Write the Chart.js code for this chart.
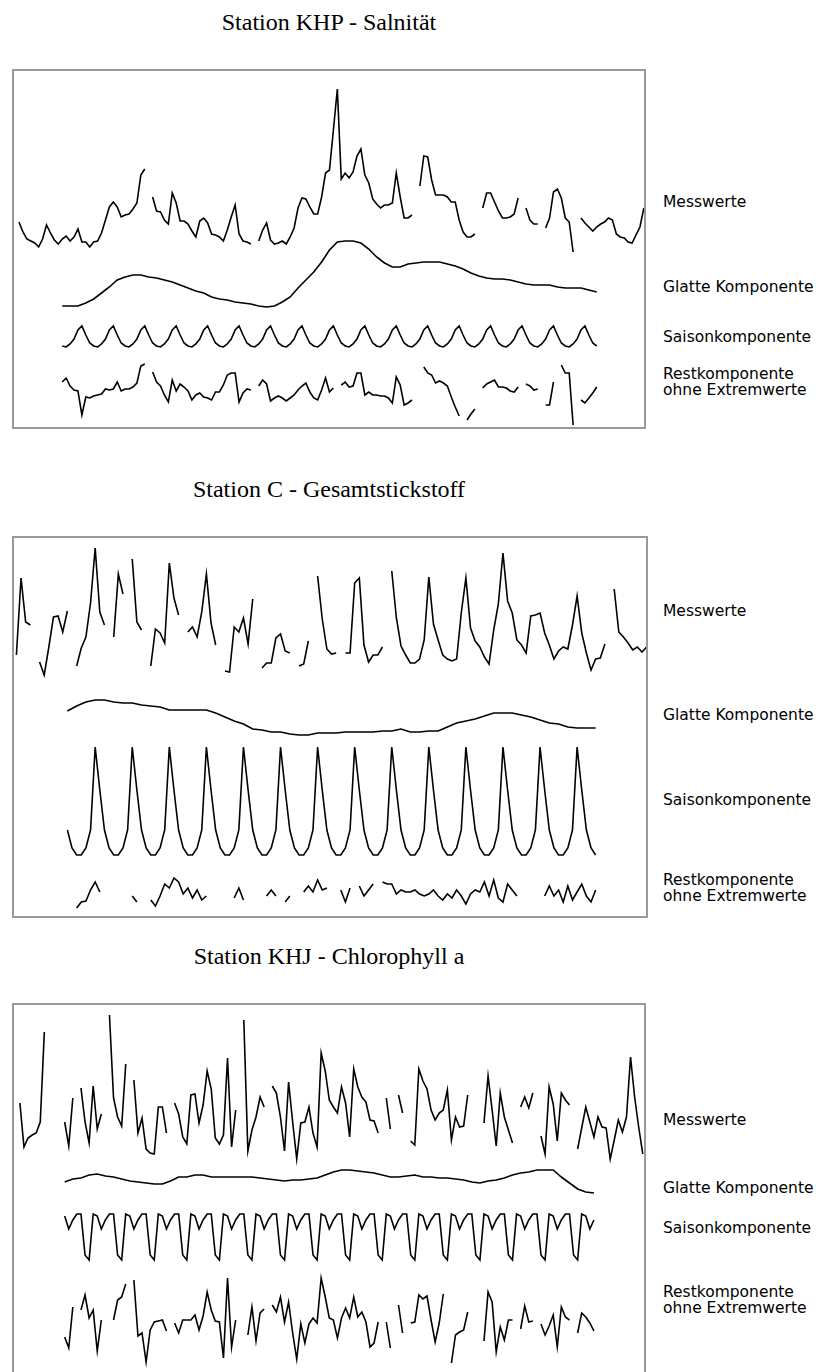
<!DOCTYPE html>
<html>
<head>
<meta charset="utf-8">
<script src="https://cdn.jsdelivr.net/npm/chart.js@4.4.1/dist/chart.umd.min.js"></script>
<style>
  body { margin: 0; background: #fff; width: 824px; height: 1372px; position: relative; overflow: hidden; }
  .title { position: absolute; left: 13px; width: 632px; text-align: center; font: 24px/24px "Liberation Serif", "Times New Roman", serif; color: #000; }
  .box { position: absolute; left: 12px; border: 2px solid #9a9a9a; box-sizing: border-box; }
  .box canvas { display: block; }
  .lab { position: absolute; left: 663px; font: 15.5px/16px "DejaVu Sans", sans-serif; color: #000; white-space: nowrap; }
</style>
</head>
<body>

<div class="title" style="top:10px">Station KHP - Salnität</div>
<div class="box" style="top:69px;width:634px;height:360px"><canvas id="khp" width="630" height="356"></canvas></div>
<div class="lab" style="top:194px">Messwerte</div>
<div class="lab" style="top:279px">Glatte Komponente</div>
<div class="lab" style="top:329px">Saisonkomponente</div>
<div class="lab" style="top:366px">Restkomponente<br>ohne Extremwerte</div>

<div class="title" style="top:477px">Station C - Gesamtstickstoff</div>
<div class="box" style="top:536px;width:636px;height:382px"><canvas id="stc" width="632" height="378"></canvas></div>
<div class="lab" style="top:603px">Messwerte</div>
<div class="lab" style="top:707px">Glatte Komponente</div>
<div class="lab" style="top:792px">Saisonkomponente</div>
<div class="lab" style="top:872px">Restkomponente<br>ohne Extremwerte</div>

<div class="title" style="top:944px">Station KHJ - Chlorophyll a</div>
<div class="box" style="top:1003px;width:634px;height:390px"><canvas id="khj" width="630" height="386"></canvas></div>
<div class="lab" style="top:1112px">Messwerte</div>
<div class="lab" style="top:1180px">Glatte Komponente</div>
<div class="lab" style="top:1220px">Saisonkomponente</div>
<div class="lab" style="top:1284px">Restkomponente<br>ohne Extremwerte</div>

<script>
// ---- Station KHP - Salnität ----
const khpMess = [38,28,21,19,17,13,21,35,27,20, 16,21,24,19,23,31,18,18,13,18,
  19,27,40,53,58,53,43,45,46,51, 57,85,91,null,63,49,48,40,36,67,
  57,39,39,36,29,23,39,42,37,26, 25,23,19,30,43,55,26,19,18,16,
  null,19,30,37,20,16,17,19,16,23, 32,52,62,61,53,46,46,63,87,90,
  130,171,81,87,82,88,104,111,85,77, 61,56,52,55,55,57,87,63,42,42,
  45,null,74,104,103,80,65,65,65,63, 58,58,40,28,23,23,26,null,52,67,
  67,58,49,42,42,43,46,62,null,52, 40,36,36,null,32,42,68,71,62,42,
  38,8,null,42,37,33,29,33,36,38, 42,40,26,23,22,18,17,25,33,52];
const khpCompStart = 11;
const khpGlattT = [11,15,17,19,21,23,25,27,29,31,33,35,37,39,41,43,45,47,49,51,53,55,57,59,61,63,65,67,
  69,71,73,75,77,79,81,83,85,87,89,91,93,95,97,99,101,103,105,107,109,111,113,115,117,119,121,123,125,
  127,129,131,133,135,137,139,141,143,145,147];
const khpGlattV = [4,4,7,11,17,23,30,33,35,35,33,32,30,28,25,22,19,17,13,11,10,8,7,6,4,3,4,8,
  13,22,30,38,48,60,68,69,69,67,61,53,47,43,43,46,47,48,48,48,46,44,41,37,34,32,31,31,30,
  28,26,25,25,25,23,22,22,22,20,18];
const khpSaison = [4,3,6,11,20,
  24,15,7,4,3,6,11,20, 24,15,7,4,3,6,11,20, 24,15,7,4,3,6,11,20, 24,15,7,4,3,6,11,20,
  24,15,7,4,3,6,11,20, 24,15,7,4,3,6,11,20, 24,15,7,4,3,6,11,20, 24,15,7,4,3,6,11,20,
  24,15,7,4,3,6,11,20, 24,15,7,4,3,6,11,20, 24,15,7,4,3,6,11,20, 24,15,7,4,3,6,11,20,
  24,15,7,4,3,6,11,20, 24,15,7,4,3,6,11,20, 24,15,7,4,3,6,11,20, 24,15,7,4,3,6,11,20,
  24,15,7,4];
const khpRest = [38,42,34,30,29,5,23,22,24,25,
  26,31,30,31,38,29,31,31,33,37, 54,56,null,48,38,34,25,18,40,29,
  36,33,29,20,25,27,23,22,20,28, 28,35,45,47,47,18,27,31,30,null,
  34,40,36,19,22,24,22,19,22,25, 30,34,37,28,22,20,30,42,28,32,
  null,35,38,33,34,47,47,25,28,25, 25,24,24,22,17,43,35,15,17,20,
  null,null,53,47,45,37,39,37,34,23, 13,4,null,0,6,11,null,32,36,38,
  40,33,33,32,29,28,33,null,36,34, 30,31,null,15,15,38,null,55,47,47,
  -5,null,20,17,22,27,33];

// ---- Station C - Gesamtstickstoff ----
const stcMess = [45,122,78,75,null,38,25,53,83,84, 68,89,null,34,52,63,97,152,88,75,
  null,63,126,106,null,141,78,70,null,34, 71,67,57,137,102,85,null,68,73,63,
  88,126,77,55,null,29,28,73,68,82, 56,101,null,32,37,37,62,66,49,47,
  null,34,36,59,null,124,81,51,46,47, null,47,47,117,122,55,38,45,45,53,
  null,129,82,54,45,37,37,41,60,123, 76,60,45,41,39,41,87,122,72,59,
  53,43,36,70,96,147,99,87,60,55, 47,84,85,87,67,55,41,49,53,51,
  75,104,67,47,30,41,42,56,null,111, 68,63,57,50,53,48,53];
const stcCompStart = 11;
const stcGlattT = [11,13,15,17,19,21,23,25,27,29,31,33,35,37,39,41,43,45,47,49,51,53,55,57,59,61,63,65,67,
  69,71,73,75,77,79,81,83,85,87,89,91,93,95,97,99,101,103,105,107,109,111,113,115,117,119,121,123,125];
const stcGlattV = [29,34,38,40,40,38,37,37,35,34, 33,30,30,30,30,30,27,23,19,16, 11,10,8,8,6,5,5,7,7,7,
  8,8,8,8,9,9,11,8,8,9, 9,13,17,19,21,24,27,27,27,25, 23,20,17,16,13,12,12,12];
const stcSaison = [30,12,5,5,12,30,
  113,70,30,12,5,5,12,30, 113,70,30,12,5,5,12,30, 113,70,30,12,5,5,12,30, 113,70,30,12,5,5,12,30,
  113,70,30,12,5,5,12,30, 113,70,30,12,5,5,12,30, 113,70,30,12,5,5,12,30, 113,70,30,12,5,5,12,30,
  113,70,30,12,5,5,12,30, 113,70,30,12,5,5,12,30, 113,70,30,12,5,5,12,30, 113,70,30,12,5,5,12,30,
  113,70,30,12,5,5,12,30,
  113,70,30,12,5];
const stcRest = [null,null,2,8,9,20,28,18,null,null,
  null,null,null,null,14,8,null,null,10,4, 14,26,22,32,28,16,22,12,20,10,
  14,null,null,null,null,null,12,22,10,null, null,null,null,14,20,14,null,8,14,null,
  null,18,24,18,30,20,22,null,null,20, 8,22,null,24,14,20,26,null,28,26,
  26,16,20,18,18,20,16,14,16,20, 14,10,16,12,20,14,6,16,20,18,
  28,14,30,12,8,26,20,14,null,null, null,null,null,14,24,14,20,8,24,10,
  18,26,14,8,20];

// ---- Station KHJ - Chlorophyll a ----
const khjMess = [67,23,32,35,37,48,138,null,null,null, null,48,24,72,null,82,48,27,84,41,
  56,null,155,72,53,44,106,null,90,37, 52,21,17,16,63,63,37,null,67,56,
  33,26,75,76,47,65,99,81,32,26, 35,112,23,60,null,150,19,40,53,73,
  63,null,84,77,53,19,88,48,11,47, 48,63,37,23,117,99,70,63,57,83,
  67,33,101,83,73,68,50,49,37,null, 72,41,null,75,57,null,29,25,101,89,
  81,60,50,57,60,80,30,53,43,44, 75,null,null,null,47,94,60,24,77,53,
  40,27,null,63,73,62,77,null,34,16, 83,66,29,77,70,65,null,21,42,63,
  48,33,53,43,42,11,30,50,38,53, 113,73,43,16];
const khjCompStart = 11;
const khjGlattT = [11,13,15,17,19,21,23,25,27,29,31,33,35,37,39,41,43,45,47,49,51,53,55,57,59,61,63,65,67,
  69,71,73,75,77,79,81,83,85,87,89,91,93,95,97,99,101,103,105,107,109,111,113,115,117,119,121,123,125,
  127,129,131,133,135,137,139,141];
const khjGlattV = [18,21,22,25,26,24,23,21,19,18, 17,16,16,19,23,23,25,25,23,23, 23,23,23,23,22,21,20,19,20,
  20,21,22,25,28,30,30,29,28,27,25, 23,23,24,25,23,23,22,22,21,20, 18,17,19,20,22,25,27,28,
  30,30,30,23,17,11,8,7];
const khjSaison = [47,34,43,49,49,8,3,
  49,47,34,43,49,49,8,3, 49,47,34,43,49,49,8,3, 49,47,34,43,49,49,8,3, 49,47,34,43,49,49,8,3,
  49,47,34,43,49,49,8,3, 49,47,34,43,49,49,8,3, 49,47,34,43,49,49,8,3, 49,47,34,43,49,49,8,3,
  49,47,34,43,49,49,8,3, 49,47,34,43,49,49,8,3, 49,47,34,43,49,49,8,3, 49,47,34,43,49,49,8,3,
  49,47,34,43,49,49,8,3, 49,47,34,43,49,49,8,3, 49,47,34,43,49,49,8,3,
  49,47,34,43];
const khjRest = [43,32,73,null,70,85,62,70,29,60,
  null,null,60,80,83,96,null,100,44,47, 18,50,58,59,60,49,null,57,47,60,
  60,60,65,50,64,88,70,59,58,22, 102,33,60,null,null,45,73,39,67,71,
  null,75,68,83,58,78,47,21,56,37, 56,62,57,102,83,62,60,42,62,72,
  62,83,63,68,58,33,37,58,null,58, 32,null,75,47,null,57,58,85,81,84,
  60,38,57,86,null,17,45,48,50,68, null,null,null,39,88,78,28,53,40,60,
  60,null,51,74,58,59,null,56,45,54, 65,33,73,63,60,null,47,67,63,57,
  49];

// one hidden y axis per component; base = page y of value 0
function yAxis(base, top, h) {
  return { display: false, min: base - (top + h), max: base - top };
}
function fromStart(start, vals) {
  return vals.map((v, k) => ({ x: start + k, y: v }));
}
function pairs(ts, vs) {
  return ts.map((t, k) => ({ x: t, y: vs[k] }));
}
function line(data, axis) {
  return { data: data, yAxisID: axis, borderColor: '#000', borderWidth: 1.6,
    pointRadius: 0, tension: 0, fill: false, spanGaps: false };
}

function panel(id, p) {
  const canvasLeft = 14;
  const xmin = (canvasLeft - p.x0) / p.step;
  new Chart(document.getElementById(id), {
    type: 'line',
    data: {
      datasets: [
        line(fromStart(0, p.mess), 'yM'),
        line(pairs(p.glattT, p.glattV), 'yG'),
        line(fromStart(p.start, p.saison), 'yS'),
        line(fromStart(p.start, p.rest), 'yR')
      ]
    },
    options: {
      responsive: false, animation: false, devicePixelRatio: 1, events: [],
      layout: { padding: 0 },
      plugins: { legend: { display: false }, tooltip: { enabled: false } },
      scales: {
        x: { type: 'linear', display: false, min: xmin, max: xmin + p.w / p.step },
        yM: yAxis(p.base[0], p.top, p.h),
        yG: yAxis(p.base[1], p.top, p.h),
        yS: yAxis(p.base[2], p.top, p.h),
        yR: yAxis(p.base[3], p.top, p.h)
      }
    }
  });
}

panel('khp', { top: 71, w: 630, h: 356, x0: 19, step: 3.93,
  base: [260, 310, 350, 420], start: khpCompStart,
  mess: khpMess, glattT: khpGlattT, glattV: khpGlattV, saison: khpSaison, rest: khpRest });

panel('stc', { top: 538, w: 632, h: 378, x0: 16.4, step: 4.634,
  base: [700, 740, 860, 910], start: stcCompStart,
  mess: stcMess, glattT: stcGlattT, glattV: stcGlattV, saison: stcSaison, rest: stcRest });

panel('khj', { top: 1005, w: 630, h: 386, x0: 19.9, step: 4.071,
  base: [1170, 1200, 1263, 1380], start: khjCompStart,
  mess: khjMess, glattT: khjGlattT, glattV: khjGlattV, saison: khjSaison, rest: khjRest });
</script>
</body>
</html>
